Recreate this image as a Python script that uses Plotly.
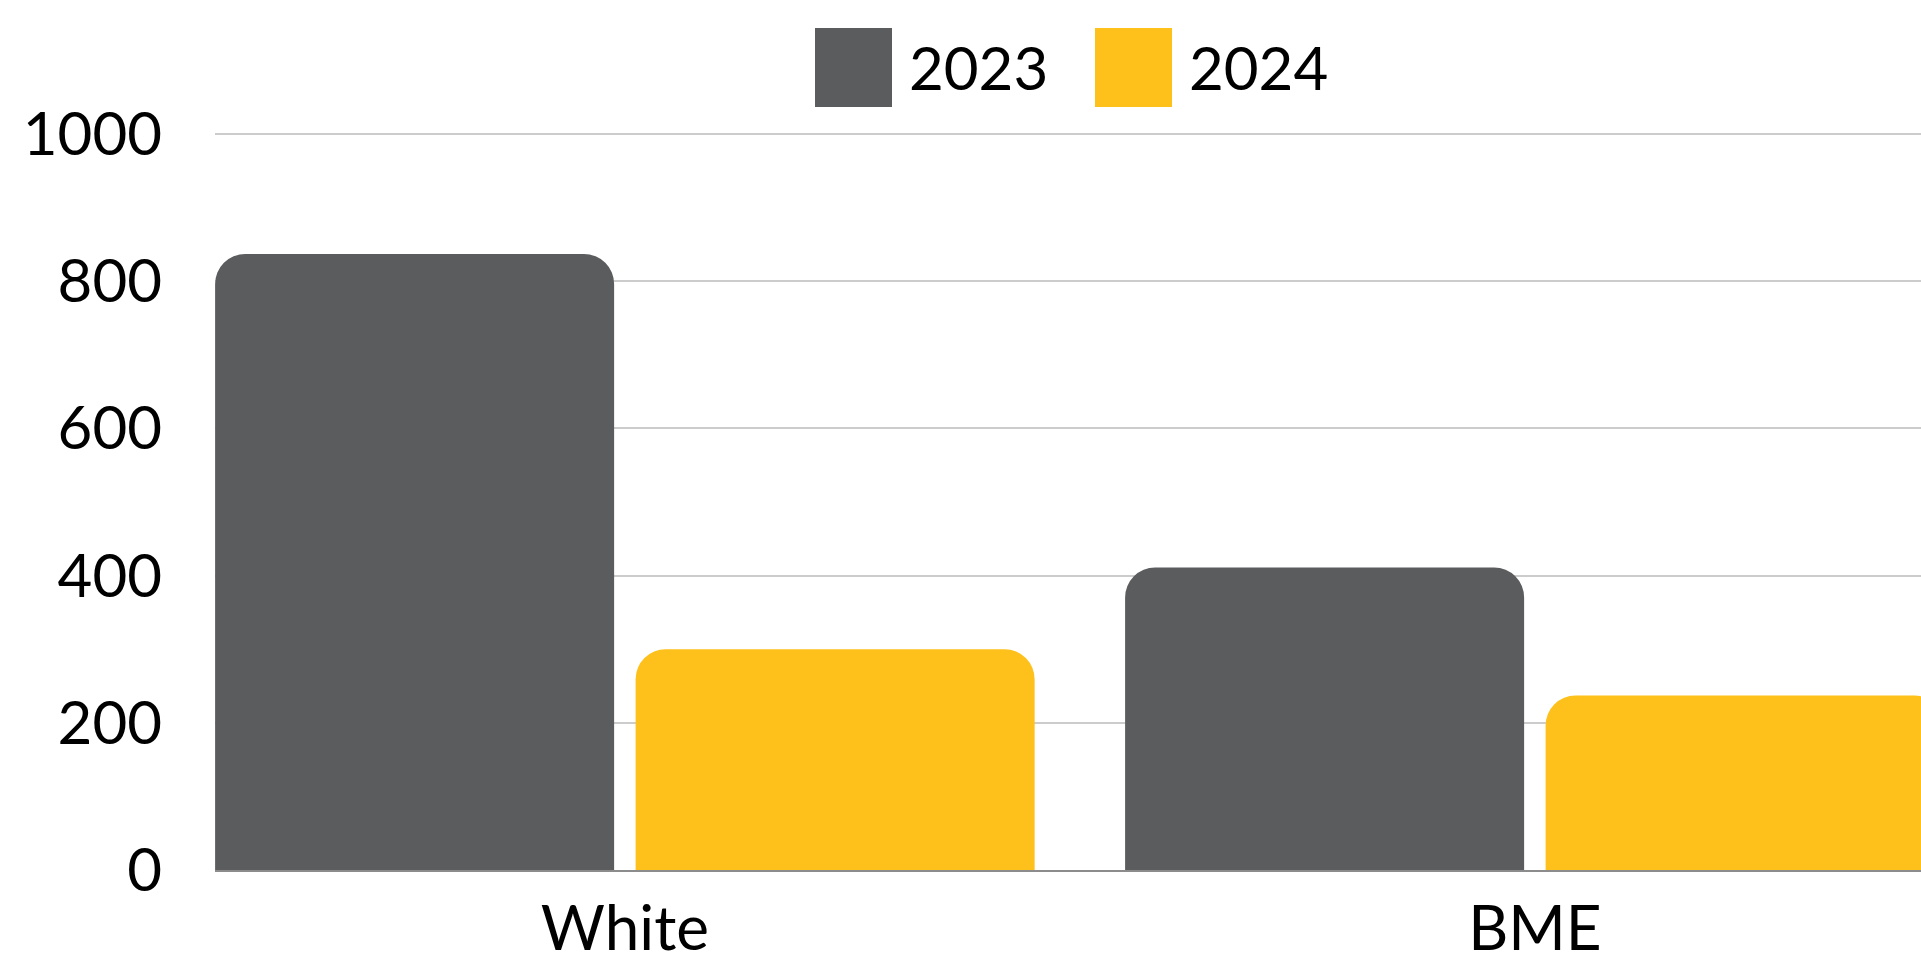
import plotly.graph_objects as go

categories = ["White", "BME"]
series_names = ["2023", "2024"]
values_2023 = [837, 411]
values_2024 = [300, 237]
colors = ["#5b5c5e", "#fec01a"]
y_ticks = [0, 200, 400, 600, 800, 1000]

FONT = "Lato"
W, H = 1921, 954
ML, MR, MT, MB = 215, 0, 133, 84
PW = W - ML - MR
PH = H - MT - MB

fig = go.Figure()
for name, vals, col in zip(series_names, [values_2023, values_2024], colors):
    fig.add_trace(go.Bar(
        x=categories, y=vals, name=name,
        marker=dict(color=col, line=dict(width=0), cornerradius=30),
        showlegend=False,
    ))

# manual legend (large swatches) in paper coordinates
def px_x(px):
    return (px - ML) / PW

def px_y(py):
    return (H - MB - py) / PH

legend_x = [815, 1095]
for i, (name, col) in enumerate(zip(series_names, colors)):
    x0 = legend_x[i]
    fig.add_shape(type="rect", xref="paper", yref="paper",
                  x0=px_x(x0), x1=px_x(x0 + 77), y0=px_y(107), y1=px_y(28),
                  fillcolor=col, line=dict(width=0))
    fig.add_annotation(xref="paper", yref="paper", x=px_x(x0 + 92), y=px_y(67),
                       xanchor="left", yanchor="middle", text=name, showarrow=False,
                       font=dict(family=FONT, size=60, color="#000000"))

period = 910.0
fig.update_layout(
    width=W, height=H,
    margin=dict(l=ML, r=MR, t=MT, b=MB, pad=0, autoexpand=False),
    paper_bgcolor="white", plot_bgcolor="white",
    barmode="group", bargap=0.0758, bargroupgap=0.0511,
    font=dict(family=FONT, color="#000000"),
    xaxis=dict(
        type="category", range=[-0.4504, -0.4504 + PW / period],
        showgrid=False, showline=True, linecolor="#8c8c8c", linewidth=1.5,
        ticks="", tickfont=dict(family=FONT, size=62, color="#000000"),
        ticklabelstandoff=4, fixedrange=True, automargin=False,
    ),
    yaxis=dict(
        range=[0, 1001.4], tickvals=y_ticks, ticktext=[str(v) for v in y_ticks],
        showgrid=True, gridcolor="#cccccc", gridwidth=1.5, zeroline=False,
        showline=False, ticks="", tickfont=dict(family=FONT, size=60, color="#000000"),
        ticklabelstandoff=52, fixedrange=True, automargin=False,
    ),
)

fig.write_html("out.html")
